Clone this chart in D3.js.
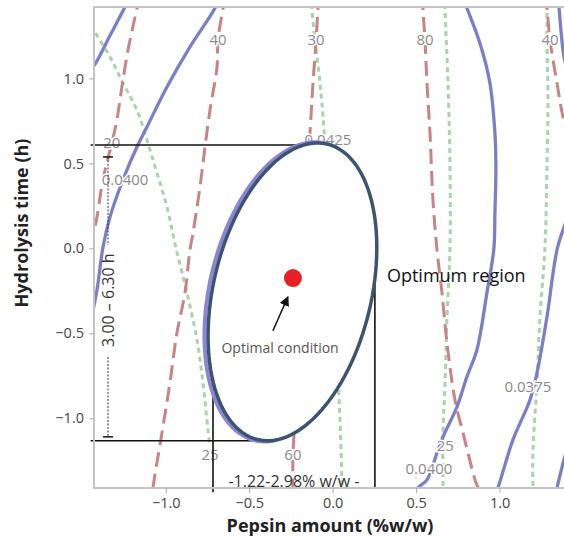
<!DOCTYPE html>
<html>
<head>
<meta charset="utf-8">
<script src="https://cdn.jsdelivr.net/npm/d3@7"></script>
<style>
  body { margin: 0; background: #fff; }
  text { font-family: "Open Sans", "Noto Sans", sans-serif; }
</style>
</head>
<body>
<div id="container"></div>
<script>
// tick values
const xTicks = [-1.0, -0.5, 0.0, 0.5, 1.0];
const yTicks = [-1.0, -0.5, 0.0, 0.5, 1.0];

// blue (solid) contours
const blue1 = [[-1.45,1.05],[-1.42,1.09],[-1.33,1.26],[-1.25,1.41],[-1.23,1.45]];
const blue2 = [[-0.675,1.49],[-0.705,1.414],[-0.855,1.185],[-0.993,0.949],[-1.113,0.714],[-1.173,0.596],[-1.257,0.402],[-1.334,0.185],[-1.376,0.008],[-1.412,-0.245],[-1.442,-0.392]];
const blue3 = [[0.774,1.49],[0.804,1.414],[0.882,1.208],[0.942,0.973],[0.972,0.679],[0.978,0.479],[0.972,0.2],[0.966,0.0],[0.924,-0.262],[0.864,-0.598],[0.804,-0.756],[0.745,-0.932],[0.661,-1.109],[0.625,-1.203],[0.565,-1.362],[0.511,-1.409],[0.487,-1.45]];
const blue4 = [[1.35,1.49],[1.356,1.42],[1.38,1.167],[1.43,0.873],[1.43,0.285],[1.344,-0.009],[1.284,-0.404],[1.224,-0.733],[1.182,-0.892],[1.08,-1.127],[0.99,-1.409],[0.972,-1.45]];
const blue5 = [[1.42,-1.127],[1.38,-1.265],[1.344,-1.409],[1.332,-1.45]];

// red (dashed) contours
const red1 = [[-1.154,1.49],[-1.172,1.414],[-1.226,1.167],[-1.263,0.949],[-1.293,0.755],[-1.323,0.62],[-1.377,0.402],[-1.412,0.185],[-1.442,0.049]];
const red2 = [[-0.645,1.49],[-0.657,1.414],[-0.687,1.226],[-0.693,1.067],[-0.735,0.814],[-0.765,0.596],[-0.795,0.361],[-0.837,0.091],[-0.855,-0.009],[-0.885,-0.262],[-0.933,-0.497],[-0.975,-0.791],[-1.017,-1.05],[-1.053,-1.262],[-1.077,-1.409],[-1.083,-1.45]];
const red3 = [[-0.082,1.49],[-0.088,1.414],[-0.1,1.214],[-0.118,0.973],[-0.136,0.679],[-0.148,0.52],[-0.196,-0.304],[-0.226,-1.009],[-0.238,-1.215],[-0.238,-1.409],[-0.238,-1.45]];
const red4 = [[0.541,1.49],[0.541,1.414],[0.553,1.226],[0.565,0.973],[0.583,0.679],[0.601,0.285],[0.625,-0.009],[0.655,-0.262],[0.685,-0.556],[0.733,-0.892],[0.781,-1.086],[0.853,-1.362],[0.871,-1.409],[0.883,-1.45]];
const red5 = [[1.272,1.49],[1.284,1.414],[1.302,1.226],[1.344,0.973],[1.38,0.773],[1.434,0.579]];

// green (dotted) contours
const green1 = [[-1.442,1.314],[-1.424,1.273],[-1.334,1.126],[-1.257,0.973],[-1.173,0.814],[-1.113,0.638],[-1.053,0.444],[-0.993,0.244],[-0.939,0.002],[-0.873,-0.262],[-0.813,-0.538],[-0.777,-0.791],[-0.747,-1.068],[-0.735,-1.156]];
const green2 = [[-0.124,1.49],[-0.124,1.414],[-0.106,1.226],[-0.076,0.973],[-0.052,0.696],[-0.016,-0.009],[0.032,-0.774],[0.044,-1.009],[0.056,-1.409],[0.056,-1.45]];
const green3 = [[0.673,1.49],[0.673,1.414],[0.691,0.973],[0.703,0.479],[0.703,0.008],[0.685,-0.404],[0.673,-0.797],[0.661,-1.091],[0.661,-1.409],[0.661,-1.45]];
const green4 = [[1.284,1.49],[1.284,1.414],[1.284,1.226],[1.29,0.873],[1.284,0.479],[1.272,0.008],[1.242,-0.404],[1.224,-0.797],[1.2,-1.189],[1.2,-1.409],[1.2,-1.45]];

// contour labels: text, x, y
const contourLabels = [
  ["40", -0.687, 1.226], ["30", -0.1, 1.226], ["80", 0.553, 1.226], ["40", 1.302, 1.226],
  ["20", -1.323, 0.62], ["0.0400", -1.244, 0.402], ["0.0425", -0.028, 0.637],
  ["25", -0.735, -1.215], ["60", -0.238, -1.215], ["0.0400", 0.577, -1.295],
  ["25", 0.675, -1.16], ["0.0375", 1.17, -0.815]
];

// optimum region
const ellipseCenter = [-0.241, -0.256];
const ellipseAxes = [0.894, 0.473]; // semi-major, semi-minor
const ellipseTilt = 13.6; // degrees clockwise from vertical
const optimalPoint = [-0.238, -0.175];
const regionX = [-0.717, 0.253];
const regionY = [-1.132, 0.608];

// select target node
const container = d3.select('#container');
const W = 564, H = 538;

const svg = container.append('svg')
  .attr('width', W)
  .attr('height', H);

// scales
const x = d3.scaleLinear().domain([-1.43, 1.41]).range([94, 568]);
const y = d3.scaleLinear().domain([-1.41, 1.42]).range([488, 7]);

svg.append('clipPath').attr('id', 'plot-clip')
  .append('rect')
  .attr('x', x.range()[0]).attr('y', y.range()[1])
  .attr('width', x.range()[1] - x.range()[0])
  .attr('height', y.range()[0] - y.range()[1]);

const line = d3.line()
  .x(d => x(d[0]))
  .y(d => y(d[1]))
  .curve(d3.curveCatmullRom.alpha(0.5));

const plot = svg.append('g').attr('clip-path', 'url(#plot-clip)');

// contour lines
const styles = [
  { series: [green1, green2, green3, green4], color: '#a9d4a9', dash: '5,4', w: 3 },
  { series: [red1, red2, red3, red4, red5], color: '#c88484', dash: '15,7', w: 3 },
  { series: [blue1, blue2, blue3, blue4, blue5], color: '#7b7fc6', dash: null, w: 3.3 }
];
styles.forEach(s => {
  plot.selectAll(null)
    .data(s.series)
    .enter().append('path')
    .attr('d', line)
    .attr('fill', 'none')
    .attr('stroke', s.color)
    .attr('stroke-width', s.w)
    .attr('stroke-dasharray', s.dash);
});

// contour labels
plot.selectAll('.clabel')
  .data(contourLabels)
  .enter().append('text')
  .attr('class', 'clabel')
  .attr('x', d => x(d[1]))
  .attr('y', d => y(d[2]))
  .attr('dy', '0.35em')
  .attr('text-anchor', 'middle')
  .attr('font-size', 15)
  .attr('fill', '#8a8a8a')
  .attr('stroke', '#fff')
  .attr('stroke-width', 3)
  .attr('paint-order', 'stroke')
  .text(d => d[0]);

// ellipse points
const ellipsePts = (c, ax, tilt) => {
  const t = tilt * Math.PI / 180;
  return d3.range(0, 360, 3).map(k => {
    const u = k * Math.PI / 180;
    return [
      c[0] + ax[0] * Math.cos(u) * Math.sin(t) + ax[1] * Math.sin(u) * Math.cos(t),
      c[1] + ax[0] * Math.cos(u) * Math.cos(t) - ax[1] * Math.sin(u) * Math.sin(t)
    ];
  });
};
const closed = d3.line().x(d => x(d[0])).y(d => y(d[1])).curve(d3.curveLinearClosed);

// guide lines for the region
const guides = [
  [[-1.45, regionY[1]], [-0.088, regionY[1]]],
  [[-1.45, regionY[0]], [-0.376, regionY[0]]],
  [[regionX[0], -0.305], [regionX[0], -1.435]],
  [[regionX[1], -0.144], [regionX[1], -1.41]]
];
svg.selectAll('.guide')
  .data(guides)
  .enter().append('path')
  .attr('class', 'guide')
  .attr('d', d3.line().x(d => x(d[0])).y(d => y(d[1])))
  .attr('stroke', '#111')
  .attr('stroke-width', 1.6);

// blue contour hugging the region
svg.append('path')
  .attr('d', closed(ellipsePts([ellipseCenter[0] - 0.016, ellipseCenter[1]], [ellipseAxes[0] + 0.004, ellipseAxes[1] + 0.006], ellipseTilt)))
  .attr('fill', 'none')
  .attr('stroke', '#8b86d4')
  .attr('stroke-width', 4);

svg.append('path')
  .attr('d', closed(ellipsePts(ellipseCenter, ellipseAxes, ellipseTilt)))
  .attr('fill', '#fff')
  .attr('stroke', '#3c5470')
  .attr('stroke-width', 3.5);

// optimal point
svg.append('circle')
  .attr('cx', x(optimalPoint[0]))
  .attr('cy', y(optimalPoint[1]))
  .attr('r', 9)
  .attr('fill', '#e82127');

// arrow
svg.append('defs').append('marker')
  .attr('id', 'arrow')
  .attr('viewBox', '0 0 10 10')
  .attr('refX', 9).attr('refY', 5)
  .attr('markerWidth', 10).attr('markerHeight', 10)
  .attr('markerUnits', 'userSpaceOnUse')
  .attr('orient', 'auto')
  .append('path').attr('d', 'M0,0 L10,5 L0,10 z').attr('fill', '#111');

svg.append('line')
  .attr('x1', x(-0.358)).attr('y1', y(-0.485))
  .attr('x2', x(-0.268)).attr('y2', y(-0.285))
  .attr('stroke', '#111')
  .attr('stroke-width', 1.5)
  .attr('marker-end', 'url(#arrow)');

svg.append('text')
  .attr('x', x(-0.315)).attr('y', y(-0.584))
  .attr('dy', '0.35em')
  .attr('text-anchor', 'middle')
  .attr('font-size', 14)
  .attr('fill', '#555')
  .text('Optimal condition');

svg.append('text')
  .attr('x', x(0.325)).attr('y', y(-0.162))
  .attr('dy', '0.35em')
  .attr('font-size', 18)
  .attr('fill', '#111')
  .text('Optimum region');

// left range bracket
const bracketX = -1.346;
svg.selectAll('.bracket')
  .data([[0.538, 0.02], [-0.639, -1.109]])
  .enter().append('line')
  .attr('x1', x(bracketX)).attr('x2', x(bracketX))
  .attr('y1', d => y(d[0])).attr('y2', d => y(d[1]))
  .attr('stroke', '#333')
  .attr('stroke-width', 1)
  .attr('stroke-dasharray', '2,1.5');
svg.selectAll('.cap')
  .data([0.538, -1.109])
  .enter().append('line')
  .attr('x1', x(bracketX) - 5).attr('x2', x(bracketX) + 5)
  .attr('y1', d => y(d)).attr('y2', d => y(d))
  .attr('stroke', '#111')
  .attr('stroke-width', 1.5);
svg.append('text')
  .attr('transform', `translate(${x(bracketX)},${y(-0.305)}) rotate(-90)`)
  .attr('dy', '0.35em')
  .attr('text-anchor', 'middle')
  .attr('font-size', 16)
  .attr('fill', '#333')
  .text('3.00 \u2013 6.30 h');

// bottom range text
svg.append('text')
  .attr('x', x((regionX[0] + regionX[1]) / 2))
  .attr('y', y(-1.405))
  .attr('text-anchor', 'middle')
  .attr('font-size', 16)
  .attr('fill', '#333')
  .text('-1.22-2.98% w/w -');

// frame
svg.append('rect')
  .attr('x', x.range()[0]).attr('y', y.range()[1])
  .attr('width', x.range()[1] - x.range()[0])
  .attr('height', y.range()[0] - y.range()[1])
  .attr('fill', 'none')
  .attr('stroke', '#c4c4c4')
  .attr('stroke-width', 2);

// axes
const xAxis = d3.axisBottom(x).tickValues(xTicks).tickFormat(d3.format('.1f')).tickSize(5).tickPadding(5);
const yAxis = d3.axisLeft(y).tickValues(yTicks).tickFormat(d3.format('.1f')).tickSize(5).tickPadding(5);

const gx = svg.append('g').attr('transform', `translate(0,${y.range()[0]})`).call(xAxis);
const gy = svg.append('g').attr('transform', `translate(${x.range()[0]},0)`).call(yAxis);
[gx, gy].forEach(g => {
  g.select('.domain').remove();
  g.selectAll('.tick line').attr('stroke', '#aaa');
  g.selectAll('.tick text').attr('font-size', 14.5).attr('fill', '#444')
    .attr('font-family', '"Open Sans", sans-serif');
});

// axis titles
svg.append('text')
  .attr('x', 330).attr('y', 532)
  .attr('text-anchor', 'middle')
  .attr('font-size', 18)
  .attr('font-weight', 'bold')
  .attr('fill', '#222')
  .text('Pepsin amount (%w/w)');

svg.append('text')
  .attr('transform', 'translate(28,223) rotate(-90)')
  .attr('text-anchor', 'middle')
  .attr('font-size', 18)
  .attr('font-weight', 'bold')
  .attr('fill', '#222')
  .text('Hydrolysis time (h)');
</script>
</body>
</html>
